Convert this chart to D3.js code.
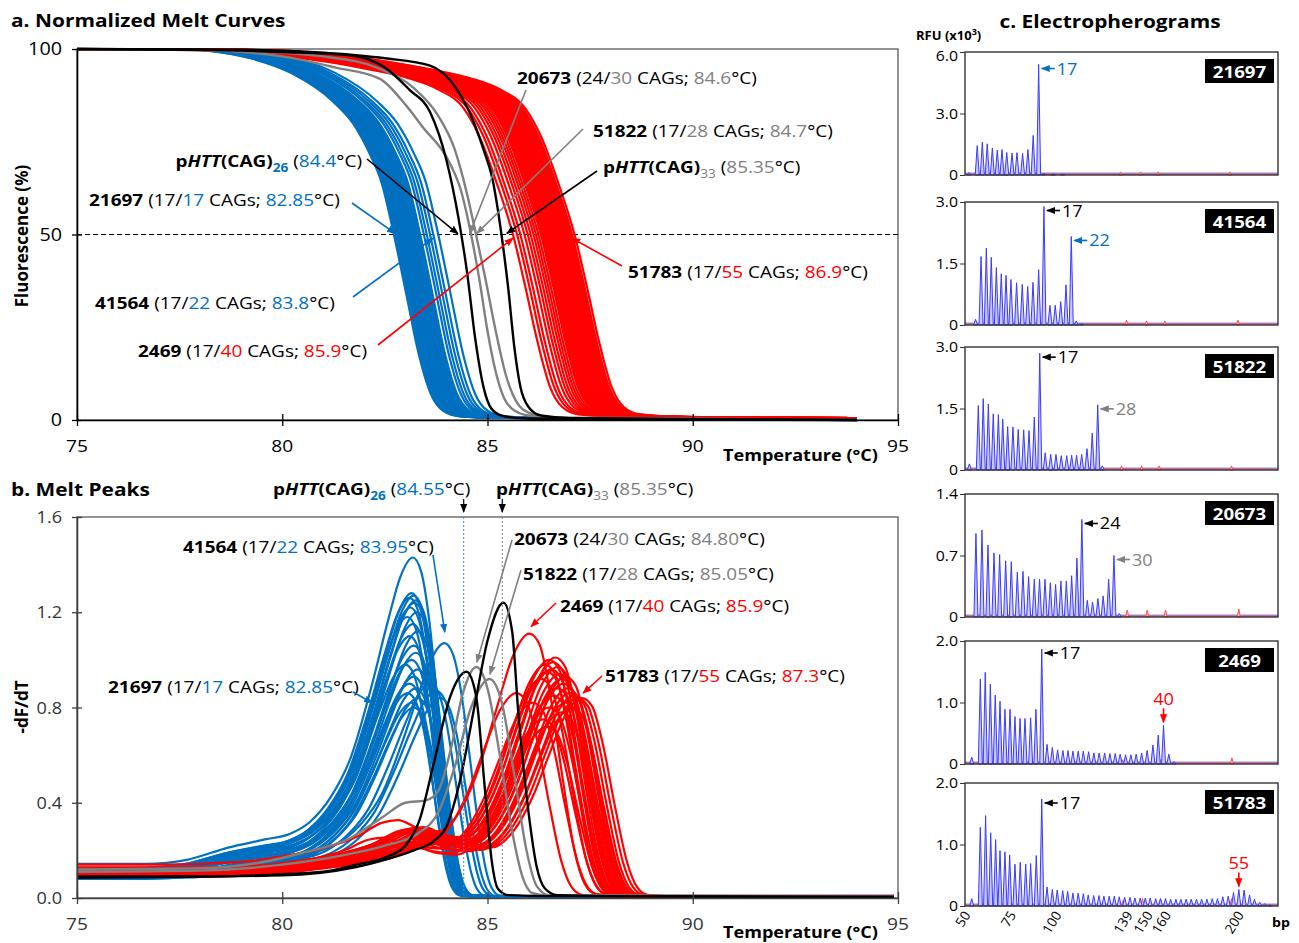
<!DOCTYPE html>
<html>
<head>
<meta charset="utf-8">
<script src="https://cdn.jsdelivr.net/npm/d3@7"></script>
<style>
body { margin: 0; background: #fff; }
text { font-family: "Open Sans", sans-serif; white-space: pre; }
</style>
</head>
<body>
<div id="chart"></div>
<script>
var blue = "#0070C0", red = "#FF0000", gray = "#808080";
var SX = 1.13;

// ---- axes ----
var tempTicks = [75, 80, 85, 90, 95];
var fluorTicks = [0, 50, 100];
var dfdtTicks = [0, 0.4, 0.8, 1.2, 1.6];

// ---- a. normalized melt curves: [dT from Tm, fluorescence %] ----
var blueMeltShape = [[-12,100],[-5,100],[-4.5,99.5],[-3.5,97.5],[-2.5,93.5],[-1.5,86],[-1,80],[-0.6,72],[-0.3,64],[0,50],[0.3,34],[0.6,18],[0.9,7],[1.2,2.5],[1.6,1],[2.5,0.6],[5,0.4],[12,0.2]];
var redMeltShape = [[-12,100],[-9,99.9],[-7,99.5],[-5.5,98],[-4.5,96.5],[-3.5,94.5],[-2.5,92],[-1.8,89],[-1.2,84],[-0.8,76],[-0.4,64],[0,50],[0.3,36],[0.6,21],[0.9,9],[1.2,3.5],[1.6,1.5],[2.5,0.9],[5,0.6],[12,0.3]];
var blueMeltTm = [82.72,82.76,82.8,82.83,82.86,82.88,82.9,82.93,82.96,82.98,83.0,83.03,83.06,83.08,83.1,83.13,83.16,83.19,83.22,83.25,83.28,83.32,83.36,83.45,83.52,83.6,83.68,83.8];
var redMeltTm = [85.62,85.72,85.8,85.9,85.98,86.05,86.12,86.18,86.24,86.3,86.34,86.38,86.42,86.46,86.5,86.54,86.58,86.62,86.66,86.7,86.74,86.78,86.82,86.86,86.9,86.94,86.98,87.02,87.06,87.12];
var gray1Melt = [[75,100],[78,99.7],[80,98],[81.3,95],[82.37,92],[83,85],[83.42,79],[84.07,69.5],[84.35,62],[84.6,50],[84.8,38],[85,24],[85.2,13],[85.4,6],[85.6,3],[86,1.2],[87,0.5],[94,0]];
var gray2Melt = [[75,100],[79,99.5],[81,98],[82.3,95],[83.2,89.5],[83.8,82],[84.2,73],[84.5,61],[84.72,50],[84.95,38],[85.2,24],[85.45,12],[85.7,5],[86,2],[86.5,0.7],[94,0]];
var black1Melt = [[75,100],[78,99.8],[80,99.2],[81.6,98.4],[82.5,95],[83.1,89],[83.6,83],[84,70],[84.3,54],[84.5,40],[84.7,22],[84.9,9],[85.1,3],[85.4,1],[86,0.4],[94,0]];
var black2Melt = [[75,100],[79,99.8],[81,99],[82.5,97.5],[83.6,95.5],[84.2,90],[84.56,83],[84.9,73],[85.12,65],[85.34,50],[85.5,36],[85.65,20],[85.8,9],[86,3.5],[86.3,1.2],[87,0.5],[94,0]];

// ---- b. melt peaks: [dT from peak, -dF/dT] ----
var blueDerivRef = 1.25, redDerivRef = 0.95;
var blueDerivShape = [[-9,0.125],[-6.5,0.125],[-5.5,0.14],[-4.5,0.185],[-3.6,0.215],[-3,0.235],[-2.5,0.28],[-2,0.37],[-1.5,0.52],[-1,0.78],[-0.6,1.02],[-0.3,1.18],[0,1.25],[0.2,1.2],[0.4,1.02],[0.6,0.72],[0.8,0.4],[1,0.15],[1.15,0.05],[1.35,0.012],[2,0.008],[13,0.008]];
var redDerivShape = [[-12,0.12],[-9,0.12],[-7,0.13],[-6,0.15],[-5,0.18],[-4.2,0.22],[-3.6,0.27],[-3.2,0.28],[-2.7,0.25],[-2.2,0.24],[-1.7,0.31],[-1.2,0.48],[-0.8,0.68],[-0.4,0.87],[0,0.95],[0.25,0.91],[0.5,0.74],[0.8,0.44],[1.1,0.17],[1.35,0.05],[1.6,0.015],[2.2,0.008],[10,0.008]];
var bluePeakT = [83.18,83.15,83.2,83.1,83.25,83.22,83.12,83.28,83.05,83.18,83.3,83.1,83.2,83.25,83.15,83.0,83.3,83.2,83.1,83.25,83.05,83.3,83.15,83.2,83.6,83.75,83.85,83.95];
var bluePeakH = [1.43,1.28,1.27,1.26,1.25,1.24,1.22,1.2,1.18,1.15,1.12,1.1,1.06,1.03,1.0,0.98,0.96,0.93,0.9,0.88,0.86,0.84,0.82,0.8,0.9,0.87,0.84,1.07];
var redPeakT = [86.02,86.3,86.4,86.45,86.5,86.55,86.6,86.65,86.7,86.75,86.8,86.85,86.9,86.95,87.0,87.1,87.2,87.3,86.35,86.5,86.6,86.7,85.7,86.1,86.8,86.9,87.05,86.45];
var redPeakH = [1.11,0.92,0.98,0.95,1.0,0.96,0.99,1.01,0.97,0.94,0.92,0.9,0.93,0.88,0.86,0.85,0.84,0.84,0.75,0.8,0.85,0.88,0.86,0.82,0.78,0.82,0.8,0.72];
var gray1Deriv = [[75,0.12],[78,0.125],[79.5,0.15],[80.5,0.19],[81.64,0.25],[82.45,0.34],[83,0.4],[83.5,0.41],[83.8,0.45],[84.1,0.62],[84.4,0.86],[84.73,0.97],[85,0.88],[85.3,0.6],[85.6,0.28],[85.85,0.09],[86.1,0.02],[86.5,0.01],[95,0.005]];
var gray2Deriv = [[75,0.11],[78,0.115],[80,0.14],[81.5,0.18],[82.5,0.22],[83.3,0.27],[83.8,0.36],[84.2,0.55],[84.6,0.8],[85.05,0.92],[85.35,0.82],[85.65,0.52],[85.95,0.2],[86.2,0.05],[86.5,0.012],[95,0.005]];
var black1Deriv = [[75,0.09],[78,0.09],[80,0.1],[81,0.11],[81.8,0.14],[82.5,0.17],[83,0.22],[83.35,0.33],[83.67,0.55],[84.1,0.85],[84.49,0.95],[84.72,0.85],[84.93,0.47],[85.1,0.16],[85.25,0.04],[85.5,0.012],[86.5,0.008],[95,0.004]];
var black2Deriv = [[75,0.085],[80,0.095],[81.8,0.13],[82.5,0.16],[83.2,0.2],[83.7,0.24],[84,0.3],[84.3,0.47],[84.7,0.82],[85,1.08],[85.39,1.24],[85.6,1.12],[85.75,0.78],[86,0.36],[86.2,0.13],[86.4,0.04],[86.7,0.012],[88,0.008],[95,0.004]];
var refPeakT = [84.42, 85.36];

// ---- c. electropherograms: peak sizes (bp) and heights (RFU x10^3) ----
var epIds = ["21697", "41564", "51822", "20673", "2469", "51783"];
var epMax = [6, 3, 3, 1.4, 2, 2];
var bpTicks = [50, 75, 100, 139, 150, 160, 200];
var epBp = [
  [52.2,56.7,59.5,62.2,65.0,67.7,70.3,72.9,75.8,78.5,81.6,84.5,87.4,90.4,93.2,98.5,103.5],
  [55.8,58.8,61.7,64.4,67.2,69.9,72.5,75.2,78.3,81.4,84.4,87.3,90.4,93.3,96.6,99.5,102.5,105.4,108.3,111.0,114],
  [52.4,57.3,60.0,62.8,65.5,68.3,70.7,73.4,76.3,79.2,82.2,85.1,88.0,91.0,94.0,97.0,99.9,102.8,105.8,108.5,111.2,114.0,116.9,119.8,122.8,125.3],
  [56.0,59.3,62.6,65.9,69.0,72.3,75.4,78.7,81.8,84.9,88.0,90.9,93.9,96.8,99.7,102.6,105.6,108.5,111.4,114.1,117.1,120.0,122.9,125.8,128.8,131.7,134.6],
  [53.7,58.4,61.1,63.9,66.6,69.2,71.9,74.7,77.4,80.2,82.9,86.0,88.9,92.1,95.0,97.9,100.8,103.7,106.5,109.2,112.1,114.9,117.8,120.7,123.6,126.6,129.5,132.4,135.1,138.1,141.0,143.9,146.9,149.9,153.1,156.0,158.9,161.8,164.7],
  [53.7,58.4,61.3,64.1,66.8,69.2,71.9,74.5,77.4,80.3,83.3,86.0,89.1,92.1,95.0,97.9,100.6,103.6,106.3,109.2,112.1,114.9,117.6,120.6,123.5,126.2,129.1,131.9,134.6,137.6,140.5,143.2,146.1,148.9,151.6,154.6,157.3,160.0,162.8,165.7,168.4,171.3,174.1,177.0,179.8,182.7,185.6,188.5,191.4,194.4,197.3,200.2,203.1,206.1,208.8,211.7,214.5,217.2]
];
var epH = [
  [0.12,1.43,1.60,1.52,1.32,1.22,1.24,1.10,1.07,1.09,1.05,1.24,1.93,5.39,0.1,0.05,0.04],
  [0.14,1.67,1.875,1.65,1.40,1.25,1.21,1.11,1.03,0.99,0.94,1.04,1.35,2.89,0.48,0.48,0.57,0.98,2.16,0.1,0.04],
  [0.15,1.57,1.74,1.61,1.37,1.35,1.24,1.06,1.05,0.99,0.98,0.96,1.29,2.85,0.42,0.38,0.38,0.35,0.35,0.36,0.36,0.38,0.52,0.90,1.59,0.10],
  [0.95,0.99,0.82,0.73,0.71,0.64,0.63,0.51,0.52,0.46,0.43,0.43,0.43,0.39,0.37,0.41,0.41,0.47,0.67,1.11,0.19,0.17,0.21,0.24,0.43,0.70,0.04],
  [0.11,1.38,1.49,1.30,1.12,1.02,0.89,0.89,0.77,0.74,0.74,0.75,0.89,1.87,0.32,0.27,0.23,0.22,0.22,0.21,0.21,0.21,0.20,0.18,0.18,0.18,0.17,0.17,0.16,0.15,0.15,0.16,0.18,0.22,0.31,0.47,0.63,0.16,0.04],
  [0.12,1.28,1.47,1.19,1.08,0.90,0.88,0.83,0.68,0.71,0.68,0.69,0.82,1.74,0.31,0.27,0.26,0.25,0.24,0.21,0.21,0.20,0.18,0.17,0.17,0.16,0.16,0.16,0.15,0.14,0.14,0.13,0.13,0.13,0.13,0.12,0.12,0.12,0.11,0.11,0.11,0.11,0.11,0.11,0.11,0.11,0.12,0.12,0.15,0.16,0.22,0.27,0.26,0.18,0.11,0.06,0.04,0.02]
];
var epRedBp = [
  [72.5,97,135.4,146.3,156,195.3],
  [74.7,99.3,138.6,149.6,159.6,199.8],
  [73.5,97.5,135.9,146.9,156.5,196.2],
  [74.7,99.3,139,150,160,200.2],
  [74.3,98.4,136.5,147.4,157.3,196.4],
  [74.3,98.4,136.8,147.4,156.9,196.2]
];
var epRedH = [
  [0.05,0.1,0.15,0.15,0.15,0.15],
  [0.05,0.05,0.12,0.1,0.1,0.12],
  [0.06,0.06,0.1,0.1,0.1,0.1],
  [0.04,0.05,0.08,0.08,0.08,0.09],
  [0.07,0.06,0.07,0.05,0.07,0.1],
  [0.08,0.08,0.1,0.12,0.1,0.12]
];
// allele labels: panel, peak index, text, colour, arrow direction
var epMarks = [
  [0, 13, "17", blue, "left"],
  [1, 13, "17", "#000", "left"], [1, 18, "22", blue, "left"],
  [2, 13, "17", "#000", "left"], [2, 24, "28", gray, "left"],
  [3, 19, "24", "#000", "left"], [3, 25, "30", gray, "left"],
  [4, 13, "17", "#000", "left"], [4, 36, "40", red, "down"],
  [5, 13, "17", "#000", "left"], [5, 51, "55", red, "down"]
];

// ---- helpers ----
function rich(g, x, y, parts, size, anchor) {
  var t = g.append("text")
    .attr("transform", "translate(" + x + "," + y + ") scale(" + SX + ",1)")
    .attr("font-size", size)
    .attr("text-anchor", anchor || "start");
  var shift = 0;
  parts.forEach(function(p) {
    var s = t.append("tspan").text(p.t);
    if (p.b) s.attr("font-weight", "bold");
    if (p.i) s.attr("font-style", "italic");
    if (p.c) s.attr("fill", p.c);
    if (p.sub) { s.attr("font-size", size * 0.72).attr("dy", size * 0.3); shift = size * 0.3; }
    else if (p.sup) { s.attr("font-size", size * 0.7).attr("dy", -size * 0.4); shift = -size * 0.4; }
    else if (shift) { s.attr("dy", -shift); shift = 0; }
  });
  return t;
}
function sample(id, a1, a2, tm, c) {
  return [{t: id, b: 1}, {t: " (" + a1 + "/"}, {t: a2, c: c}, {t: " CAGs; "}, {t: tm, c: c}, {t: "°C)"}];
}
function pHTT(n, c, boldSub, tm) {
  return [{t: "p", b: 1}, {t: "HTT", b: 1, i: 1}, {t: "(CAG)", b: 1}, {t: n, b: boldSub, c: c, sub: 1}, {t: " ("}, {t: tm, c: c}, {t: "°C)"}];
}
function shifted(shape, t0, h, ref) {
  return shape.map(function(d) { return [t0 + d[0], d[1] * h / ref]; });
}

var svg = d3.select("#chart").append("svg").attr("width", 1299).attr("height", 943);
var defs = svg.append("defs");
[["blue", blue], ["red", red], ["gray", gray], ["black", "#000"]].forEach(function(c) {
  defs.append("marker").attr("id", "arr-" + c[0]).attr("viewBox", "0 0 10 10")
    .attr("refX", 9).attr("refY", 5).attr("markerWidth", 9).attr("markerHeight", 9)
    .attr("markerUnits", "userSpaceOnUse").attr("orient", "auto")
    .append("path").attr("d", "M0,1L10,5L0,9z").attr("fill", c[1]);
});
function colName(c) { return c == blue ? "blue" : c == red ? "red" : c == gray ? "gray" : "black"; }

var xa = d3.scaleLinear().domain([75, 95]).range([77, 898]);
var ya = d3.scaleLinear().domain([0, 100]).range([420, 49]);
var yb = d3.scaleLinear().domain([0, 1.6]).range([898, 517]);
var xe = d3.scaleLinear().domain([50, 221.7]).range([965, 1278]);

defs.append("clipPath").attr("id", "clipA").append("rect")
  .attr("x", xa(75)).attr("y", ya(100) - 4).attr("width", xa(94) - xa(75)).attr("height", ya(0) - ya(100) + 6);
defs.append("clipPath").attr("id", "clipB").append("rect")
  .attr("x", xa(75)).attr("y", yb(1.6)).attr("width", xa(94.9) - xa(75)).attr("height", yb(0) - yb(1.6) + 3);

function frame(g, x0, top, bottom) {
  g.append("rect").attr("x", x0).attr("y", top).attr("width", 898 - x0).attr("height", bottom - top)
    .attr("fill", "none").attr("stroke", "#595959").attr("stroke-width", 1.3);
}

// ================= panel a =================
var gA = svg.append("g");
frame(gA, 77, 49, 420);
gA.append("line").attr("x1", xa(75)).attr("x2", xa(95)).attr("y1", ya(50)).attr("y2", ya(50))
  .attr("stroke", "#000").attr("stroke-width", 1.2).attr("stroke-dasharray", "5,3");

var lineA = d3.line().x(function(d) { return xa(d[0]); }).y(function(d) { return ya(d[1]); }).curve(d3.curveMonotoneX);
var cA = gA.append("g").attr("clip-path", "url(#clipA)").attr("fill", "none");
blueMeltTm.forEach(function(tm) {
  cA.append("path").attr("d", lineA(shifted(blueMeltShape, tm, 1, 1))).attr("stroke", blue).attr("stroke-width", 2.2);
});
redMeltTm.forEach(function(tm) {
  cA.append("path").attr("d", lineA(shifted(redMeltShape, tm, 1, 1))).attr("stroke", red).attr("stroke-width", 2.2);
});
[gray1Melt, gray2Melt].forEach(function(s) {
  cA.append("path").attr("d", lineA(s)).attr("stroke", gray).attr("stroke-width", 2.4);
});
[black1Melt, black2Melt].forEach(function(s) {
  cA.append("path").attr("d", lineA(s)).attr("stroke", "#000").attr("stroke-width", 2.4);
});

gA.append("g").attr("transform", "translate(0,420)")
  .call(d3.axisBottom(xa).tickValues(tempTicks).tickSize(6).tickSizeOuter(0).tickFormat(""))
  .call(function(g) { g.selectAll(".tick line").attr("y1", -6).attr("stroke-width", 1.3); g.select(".domain").attr("stroke-width", 1.6); });
gA.append("g").attr("transform", "translate(77,0)")
  .call(d3.axisLeft(ya).tickValues(fluorTicks).tickSize(5).tickSizeOuter(0).tickFormat(""))
  .call(function(g) { g.selectAll(".tick line").attr("x1", 5).attr("stroke-width", 1.3); g.select(".domain").attr("stroke-width", 1.6); });
tempTicks.forEach(function(v) { rich(gA, xa(v), 452, [{t: String(v)}], 17, "middle"); });
fluorTicks.forEach(function(v) { rich(gA, 62, ya(v) + 6, [{t: String(v)}], 17.5, "end"); });
rich(gA, 723, 461, [{t: "Temperature (°C)", b: 1}], 16);
gA.append("text").attr("transform", "translate(28,236) rotate(-90)").attr("text-anchor", "middle")
  .attr("font-size", 17).attr("font-weight", "bold").text("Fluorescence (%)");
rich(svg, 11, 27, [{t: "a. Normalized Melt Curves", b: 1}], 18.5);

// annotations: text position and leader tail in px, tip in data units
var notesA = [
  [pHTT("26", blue, 1, "84.4"), 362, 167, "end", [367, 159], [84.28, 50.2], "#000"],
  [sample("21697", "17", "17", "82.85", blue), 89, 206, "start", [352, 203], [82.75, 50.3], blue],
  [sample("41564", "17", "22", "83.8", blue), 95, 309, "start", [353, 297], [83.67, 49], blue],
  [sample("2469", "17", "40", "85.9", red), 138, 357, "start", [378, 345], [85.62, 49], red],
  [sample("20673", "24", "30", "84.6", gray), 517, 84, "start", [526, 90], [84.57, 50.3], gray],
  [sample("51822", "17", "28", "84.7", gray), 593, 137, "start", [583, 129], [84.74, 50.3], gray],
  [pHTT("33", gray, 0, "85.35"), 603, 173, "start", [597, 171], [85.47, 50.3], "#000"],
  [sample("51783", "17", "55", "86.9", red), 628, 278, "start", [622, 266], [87.06, 49], red]
];
notesA.forEach(function(n) {
  rich(gA, n[1], n[2], n[0], 16.8, n[3]);
  gA.append("line").attr("x1", n[4][0]).attr("y1", n[4][1]).attr("x2", xa(n[5][0])).attr("y2", ya(n[5][1]))
    .attr("stroke", n[6]).attr("stroke-width", 1.6).attr("marker-end", "url(#arr-" + colName(n[6]) + ")");
});

// ================= panel b =================
var gB = svg.append("g");
frame(gB, 77, 517, 898);
var lineB = d3.line().x(function(d) { return xa(d[0]); }).y(function(d) { return yb(d[1]); }).curve(d3.curveMonotoneX);
var cB = gB.append("g").attr("clip-path", "url(#clipB)").attr("fill", "none");
bluePeakT.forEach(function(t, i) {
  cB.append("path").attr("d", lineB(shifted(blueDerivShape, t, bluePeakH[i], blueDerivRef))).attr("stroke", blue).attr("stroke-width", 2.2);
});
redPeakT.forEach(function(t, i) {
  cB.append("path").attr("d", lineB(shifted(redDerivShape, t, redPeakH[i], redDerivRef))).attr("stroke", red).attr("stroke-width", 2.2);
});
[gray1Deriv, gray2Deriv].forEach(function(s) {
  cB.append("path").attr("d", lineB(s)).attr("stroke", gray).attr("stroke-width", 2.4);
});
[black1Deriv, black2Deriv].forEach(function(s) {
  cB.append("path").attr("d", lineB(s)).attr("stroke", "#000").attr("stroke-width", 2.4);
});
// reference peak lines
refPeakT.forEach(function(t, i) {
  gB.append("line").attr("x1", xa(t)).attr("x2", xa(t)).attr("y1", yb(1.6)).attr("y2", yb(0))
    .attr("stroke", i == 0 ? "#3d8fe0" : gray).attr("stroke-width", 1).attr("stroke-dasharray", "2,2");
  gB.append("line").attr("x1", xa(t)).attr("x2", xa(t)).attr("y1", 499).attr("y2", 512)
    .attr("stroke", "#000").attr("stroke-width", 1.2).attr("marker-end", "url(#arr-black)");
});

gB.append("g").attr("transform", "translate(0,898)")
  .call(d3.axisBottom(xa).tickValues(tempTicks).tickSize(6).tickSizeOuter(0).tickFormat(""))
  .call(function(g) { g.selectAll(".tick line").attr("y1", -6).attr("stroke", "#404040").attr("stroke-width", 1.3); g.select(".domain").attr("stroke", "#404040").attr("stroke-width", 1.6); });
gB.append("g").attr("transform", "translate(77,0)")
  .call(d3.axisLeft(yb).tickValues(dfdtTicks).tickSize(5).tickSizeOuter(0).tickFormat(""))
  .call(function(g) { g.selectAll(".tick line").attr("x1", 5).attr("stroke", "#404040").attr("stroke-width", 1.3); g.select(".domain").attr("stroke", "#404040").attr("stroke-width", 1.6); });
tempTicks.forEach(function(v) { rich(gB, xa(v), 930, [{t: String(v)}], 17, "middle").attr("fill", "#333"); });
dfdtTicks.forEach(function(v) { rich(gB, 62, yb(v) + 6, [{t: v.toFixed(1)}], 16, "end").attr("fill", "#333"); });
rich(gB, 723, 938, [{t: "Temperature (°C)", b: 1}], 16);
gB.append("text").attr("transform", "translate(28,707) rotate(-90)").attr("text-anchor", "middle")
  .attr("font-size", 17).attr("font-weight", "bold").text("-dF/dT");
rich(svg, 11, 496, [{t: "b. Melt Peaks", b: 1}], 18.5);
rich(gB, 273, 495, pHTT("26", blue, 1, "84.55"), 16.8, "start");
rich(gB, 496, 495, pHTT("33", gray, 0, "85.35"), 16.8, "start");

var notesB = [
  [sample("41564", "17", "22", "83.95", blue), 183, 553, [433, 555], [83.96, 1.117], blue],
  [sample("21697", "17", "17", "82.85", blue), 108, 693, [353, 692], [82.19, 0.82], blue],
  [sample("20673", "24", "30", "84.80", gray), 514, 545, [512, 540], [84.74, 0.99], gray],
  [sample("51822", "17", "28", "85.05", gray), 523, 580, [521, 570], [85.06, 0.94], gray],
  [sample("2469", "17", "40", "85.9", red), 560, 612, [556, 603], [86.06, 1.14], red],
  [sample("51783", "17", "55", "87.3", red), 605, 682, [602, 676], [87.33, 0.86], red]
];
notesB.forEach(function(n) {
  rich(gB, n[1], n[2], n[0], 16.8, "start");
  gB.append("line").attr("x1", n[3][0]).attr("y1", n[3][1]).attr("x2", xa(n[4][0])).attr("y2", yb(n[4][1]))
    .attr("stroke", n[5]).attr("stroke-width", 1.6).attr("marker-end", "url(#arr-" + colName(n[5]) + ")");
});

// ================= panel c =================
var epTops = [52, 202, 347, 494, 641, 783], epH0 = 123;
rich(svg, 1110, 28, [{t: "c. Electropherograms", b: 1}], 18.5, "middle");
rich(svg, 916, 40, [{t: "RFU (x10", b: 1}, {t: "3", b: 1, sup: 1}, {t: ")", b: 1}], 11.5);
function peakPath(bp, h, ye, w) {
  return "M" + xe(bp - w) + "," + ye(0) + "L" + xe(bp) + "," + ye(h) + "L" + xe(bp + w) + "," + ye(0) + "Z";
}
epIds.forEach(function(id, i) {
  var top = epTops[i], bottom = top + epH0;
  var ye = d3.scaleLinear().domain([0, epMax[i]]).range([bottom, top]);
  var g = svg.append("g");
  g.append("line").attr("x1", xe(50)).attr("x2", xe(221.7)).attr("y1", ye(0) - 1).attr("y2", ye(0) - 1)
    .attr("stroke", "#ff7070").attr("stroke-width", 2.2);
  g.append("line").attr("x1", xe(50)).attr("x2", xe(221.7)).attr("y1", ye(0) - 2).attr("y2", ye(0) - 2)
    .attr("stroke", "#7070ff").attr("stroke-width", 0.8);
  g.selectAll(".rp").data(d3.zip(epRedBp[i], epRedH[i])).join("path")
    .attr("d", function(d) { return peakPath(d[0], d[1], ye, 0.9); })
    .attr("fill", "#ffb8b8").attr("stroke", "#ff5050").attr("stroke-width", 1);
  g.selectAll(".bp").data(d3.zip(epBp[i], epH[i])).join("path")
    .attr("d", function(d) { return peakPath(d[0], d[1], ye, 1.1); })
    .attr("fill", "#c8c8ff").attr("stroke", "#3a3aff").attr("stroke-width", 1);
  g.append("rect").attr("x", xe(50)).attr("y", top).attr("width", xe(221.7) - xe(50)).attr("height", epH0)
    .attr("fill", "none").attr("stroke", "#333").attr("stroke-width", 1.4);
  g.append("g").attr("transform", "translate(" + xe(50) + ",0)")
    .call(d3.axisLeft(ye).tickValues([0, epMax[i] / 2, epMax[i]]).tickSize(5).tickSizeOuter(0).tickFormat(""))
    .call(function(a) { a.select(".domain").remove(); a.selectAll(".tick line").attr("stroke", "#333"); });
  [0, epMax[i] / 2, epMax[i]].forEach(function(v) {
    var dy = (i == 0 && v == epMax[i]) ? 9 : 5;
    rich(g, 958, ye(v) + dy, [{t: v == 0 ? "0" : v.toFixed(1)}], 14, "end");
  });
  g.append("rect").attr("x", 1205).attr("y", top + 7).attr("width", 69).attr("height", 24).attr("fill", "#000");
  rich(g, 1239.5, top + 25.5, [{t: id, b: 1}], 16.5, "middle").attr("fill", "#fff");
});

epMarks.forEach(function(m) {
  var i = m[0], top = epTops[i];
  var ye = d3.scaleLinear().domain([0, epMax[i]]).range([top + epH0, top]);
  var x = xe(epBp[i][m[1]]), y = ye(epH[i][m[1]]);
  var mk = "url(#arr-" + colName(m[3]) + ")";
  if (m[4] == "left") {
    svg.append("line").attr("x1", x + 16).attr("x2", x + 3).attr("y1", y + 4).attr("y2", y + 4)
      .attr("stroke", m[3]).attr("stroke-width", 1.6).attr("marker-end", mk);
    rich(svg, x + 18, y + 10, [{t: m[2], c: m[3]}], 16);
  } else {
    svg.append("line").attr("x1", x).attr("x2", x).attr("y1", y - 17).attr("y2", y - 3)
      .attr("stroke", m[3]).attr("stroke-width", 1.6).attr("marker-end", mk);
    rich(svg, x, y - 20, [{t: m[2], c: m[3]}], 16, "middle");
  }
});

// bp axis labels under the last panel
var lastBottom = epTops[5] + epH0;
bpTicks.forEach(function(v) {
  svg.append("text").attr("transform", "translate(" + (xe(v) + 6) + "," + (lastBottom + 9) + ") rotate(-58)")
    .attr("text-anchor", "end").attr("font-size", 13.5).text(String(v));
});
rich(svg, 1272, 927, [{t: "bp", b: 1}], 12.5);
</script>
</body>
</html>
